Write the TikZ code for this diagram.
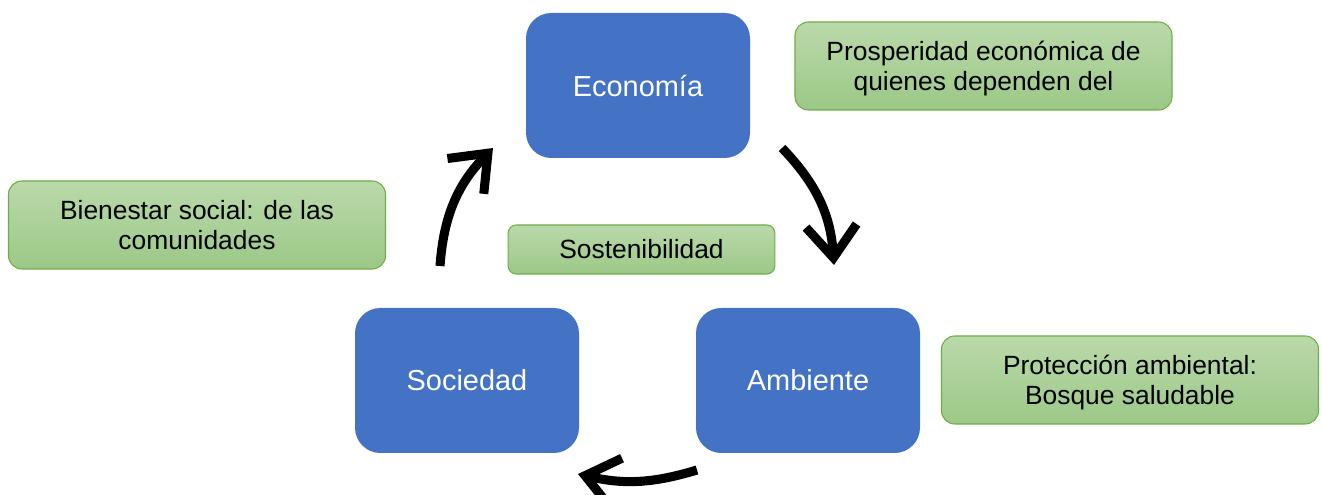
\documentclass[tikz,border=0pt]{standalone}
\usepackage{fontspec}
\setmainfont{Liberation Sans}
\usetikzlibrary{positioning,arrows.meta}
\definecolor{pilarBlue}{RGB}{68,114,196}
\definecolor{notaTop}{RGB}{186,217,170}
\definecolor{notaBottom}{RGB}{156,200,135}
\definecolor{notaLine}{RGB}{112,173,71}

\begin{document}
\begin{tikzpicture}[
    x=0.75pt, y=-0.75pt,
    pilar/.style={%
      rectangle,
      rounded corners=19pt,
      fill=pilarBlue,
      minimum width=168pt,
      minimum height=108.75pt,
      text=white,
      font=\fontsize{21.7}{26}\selectfont,
    },
    nota/.style={%
      draw=notaLine,
      line width=0.8pt,
      rectangle,
      rounded corners=10pt,
      top color=notaTop,
      bottom color=notaBottom,
      minimum width=282.75pt,
      minimum height=66pt,
      align=center,
      font=\fontsize{19.8}{22.5}\selectfont,
      text height=38pt,
      text depth=1.5pt,
    },
    ciclo/.style={%
      line width=6.8pt,
      -{Straight Barb[length=24pt,width=38pt]},
    },
  ]

    \useasboundingbox (0,0) rectangle (1322,495);

    \node [pilar] (eco) at (638,85.5) {Economía};
    \node [pilar] (amb) at (808,380.5) {Ambiente};
    \node [pilar] (soc) at (467,380.5) {Sociedad};

    \node [nota] (prosp) at (983.5,66) {Prosperidad económica de\\quienes dependen del};
    \node [nota] (bien) at (197,225) {Bienestar social: de las\\comunidades};
    \node [nota] (prot) at (1130,380) {Protección ambiental:\\Bosque saludable};
    \node [nota, minimum width=200pt, minimum height=36.75pt, rounded corners=6pt, text height=16.5pt, text depth=2.5pt] (sost) at (641.5,249.5) {Sostenibilidad};

    \coordinate (socUp) at (440,266);
    \coordinate (ecoIn) at (493,148);
    \coordinate (ecoOut) at (782,148);
    \coordinate (ambIn) at (834,265);
    \coordinate (ambOut) at (697,470);
    \coordinate (socIn) at (578,474);

    \draw [ciclo] (socUp) to[bend left=20] (ecoIn);
    \draw [ciclo] (ecoOut) to[bend left=20] (ambIn);
    \draw [ciclo] (ambOut) to[bend left=15] (socIn);
    \end{tikzpicture}
\end{document}
